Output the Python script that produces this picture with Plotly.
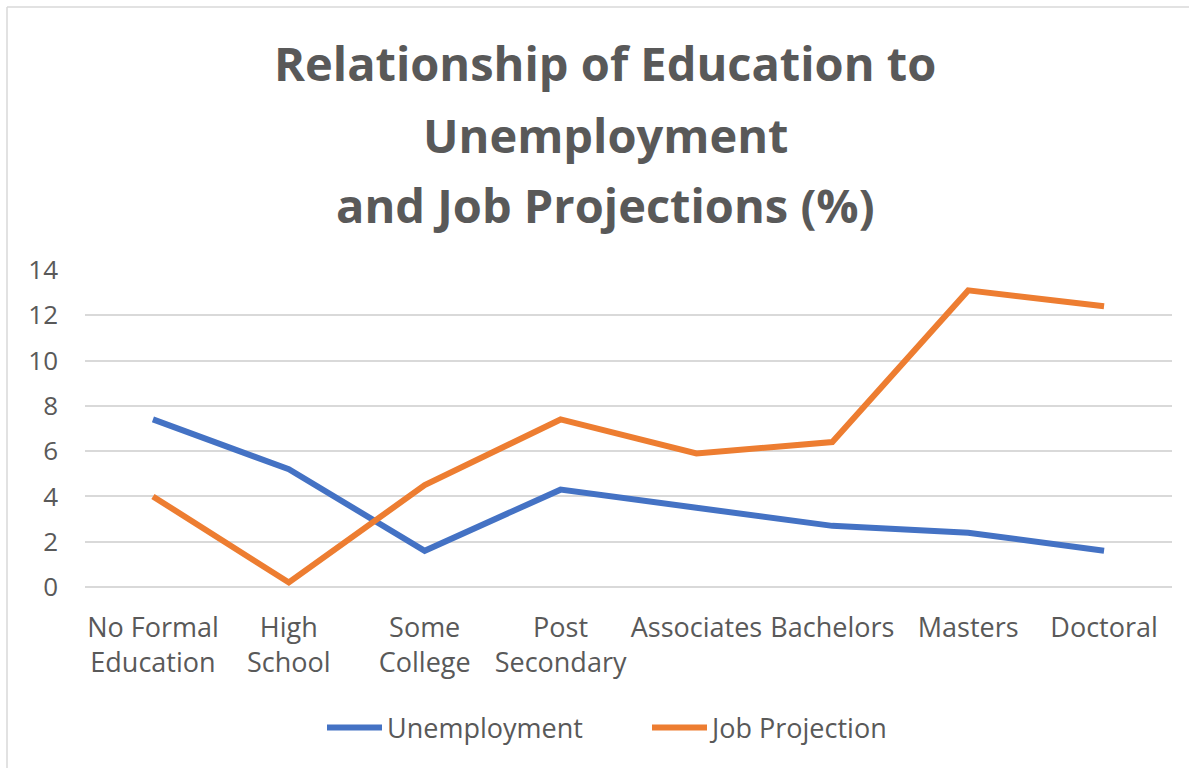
import plotly.graph_objects as go

# Education levels along the x axis
categories = [
    "No Formal<br>Education",
    "High<br>School",
    "Some<br>College",
    "Post<br>Secondary",
    "Associates",
    "Bachelors",
    "Masters",
    "Doctoral",
]

# Percent values per education level
unemployment = [7.4, 5.2, 1.6, 4.3, 3.5, 2.7, 2.4, 1.6]
job_projection = [4.0, 0.2, 4.5, 7.4, 5.9, 6.4, 13.1, 12.4]

y_ticks = [0, 2, 4, 6, 8, 10, 12, 14]

title_lines = [
    "Relationship of Education to",
    "Unemployment",
    "and Job Projections (%)",
]

TEXT = "#595959"
GRID = "#D9D9D9"
FONT = "Open Sans"

W, H = 1189, 768
L, R, T, B = 85, 17, 270, 181
PW, PH = W - L - R, H - T - B


def px_x(x):
    return (x - L) / PW


def px_y(y):
    return (H - B - y) / PH


fig = go.Figure()
fig.add_trace(go.Scatter(
    x=categories, y=unemployment, mode="lines", name="Unemployment",
    line=dict(color="#4472C4", width=6),
))
fig.add_trace(go.Scatter(
    x=categories, y=job_projection, mode="lines", name="Job Projection",
    line=dict(color="#ED7D31", width=6),
))

annotations = []
for text, yp in zip(title_lines, [63, 135, 205]):
    annotations.append(dict(
        text=f"<b>{text}</b>", x=px_x(605), y=px_y(yp), xref="paper", yref="paper",
        xanchor="center", yanchor="middle", showarrow=False,
        font=dict(family=FONT, size=47, color=TEXT),
    ))

shapes = [
    dict(type="line", xref="paper", yref="paper", x0=px_x(7), x1=px_x(1189),
         y0=px_y(7), y1=px_y(7), line=dict(color=GRID, width=1.5)),
    dict(type="line", xref="paper", yref="paper", x0=px_x(7), x1=px_x(7),
         y0=px_y(7), y1=px_y(768), line=dict(color=GRID, width=1.5)),
]

fig.update_layout(
    width=W, height=H,
    margin=dict(l=L, r=R, t=T, b=B),
    paper_bgcolor="white", plot_bgcolor="white",
    font=dict(family=FONT, color=TEXT, size=26),
    annotations=annotations,
    shapes=shapes,
    showlegend=True,
    legend=dict(
        orientation="h", x=px_x(322), y=px_y(728), xanchor="left", yanchor="middle",
        font=dict(family=FONT, size=27, color=TEXT), itemwidth=55,
        entrywidth=255,
    ),
)
fig.update_xaxes(
    type="category", range=[-0.5, len(categories) - 0.5],
    showgrid=False, showline=False, zeroline=False, ticks="",
    tickfont=dict(family=FONT, size=27, color=TEXT), ticklabelstandoff=22,
)
fig.update_yaxes(
    range=[0, 14], tickvals=y_ticks, showgrid=True, gridcolor=GRID, gridwidth=1.5,
    zeroline=True, zerolinecolor=GRID, zerolinewidth=1.5, showline=False, ticks="",
    tickfont=dict(family=FONT, size=26, color=TEXT), ticklabelstandoff=26,
)

fig.write_html("out.html")
